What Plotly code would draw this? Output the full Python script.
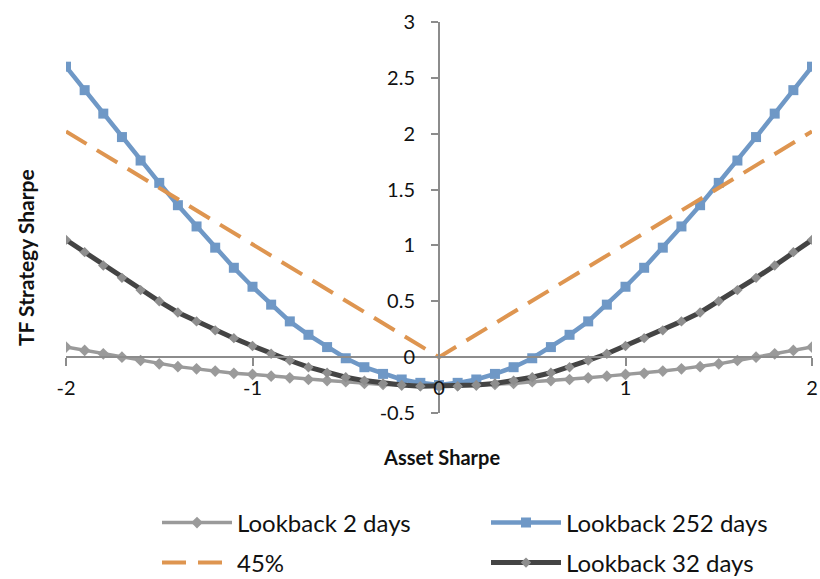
import plotly.graph_objects as go

# asset sharpe grid
asset_sharpe = [-2.0, -1.9, -1.8, -1.7, -1.6, -1.5, -1.4, -1.3, -1.2, -1.1, -1.0,
                -0.9, -0.8, -0.7, -0.6, -0.5, -0.4, -0.3, -0.2, -0.1, 0.0,
                0.1, 0.2, 0.3, 0.4, 0.5, 0.6, 0.7, 0.8, 0.9, 1.0,
                1.1, 1.2, 1.3, 1.4, 1.5, 1.6, 1.7, 1.8, 1.9, 2.0]

lookback_2 = [0.09, 0.06, 0.03, 0.00, -0.03, -0.06, -0.085, -0.105, -0.125, -0.145, -0.155,
              -0.17, -0.185, -0.20, -0.21, -0.22, -0.235, -0.245, -0.25, -0.255, -0.26,
              -0.255, -0.25, -0.245, -0.235, -0.22, -0.21, -0.20, -0.185, -0.17, -0.155,
              -0.145, -0.125, -0.105, -0.085, -0.06, -0.03, 0.00, 0.03, 0.06, 0.09]

lookback_252 = [2.60, 2.39, 2.18, 1.97, 1.76, 1.56, 1.36, 1.17, 0.98, 0.80, 0.63,
                0.47, 0.32, 0.20, 0.09, -0.01, -0.09, -0.15, -0.20, -0.23, -0.25,
                -0.23, -0.20, -0.15, -0.09, -0.01, 0.09, 0.20, 0.32, 0.47, 0.63,
                0.80, 0.98, 1.17, 1.36, 1.56, 1.76, 1.97, 2.18, 2.39, 2.60]

lookback_32 = [1.05, 0.94, 0.82, 0.71, 0.60, 0.50, 0.40, 0.32, 0.24, 0.17, 0.10,
               0.03, -0.03, -0.09, -0.14, -0.18, -0.21, -0.235, -0.25, -0.26, -0.26,
               -0.26, -0.25, -0.235, -0.21, -0.18, -0.14, -0.09, -0.03, 0.03, 0.10,
               0.17, 0.24, 0.32, 0.40, 0.50, 0.60, 0.71, 0.82, 0.94, 1.05]

line45_x = [-2.0, 0.0, 2.0]
line45_y = [2.02, 0.0, 2.02]

x_tickvals = [-2, -1, 0, 1, 2]
x_ticktext = ['-2', '-1', '0', '1', '2']
y_tickvals = [-0.5, 0, 0.5, 1, 1.5, 2, 2.5, 3]
y_ticktext = ['-0.5', '0', '0.5', '1', '1.5', '2', '2.5', '3']

FONT = 'Lato'
AXIS_GREY = '#8c8c8c'

# plot area in pixels
L, R, T, B = 66, 812, 22, 413
W, H = R - L, B - T

def px_x(p):
    return (p - L) / W

def px_y(p):
    return (B - p) / H

plots = [
    go.Scatter(x=asset_sharpe, y=lookback_2, name='Lookback 2 days', mode='lines+markers',
               line={'color': '#9a9a9a', 'width': 3.5},
               marker={'symbol': 'diamond', 'size': 9, 'color': '#9a9a9a'},
               legend='legend'),
    go.Scatter(x=asset_sharpe, y=lookback_252, name='Lookback 252 days', mode='lines+markers',
               line={'color': '#6f98c6', 'width': 4.5},
               marker={'symbol': 'square', 'size': 10, 'color': '#6f98c6'},
               legend='legend2'),
    go.Scatter(x=line45_x, y=line45_y, name='45%', mode='lines',
               line={'color': '#de9550', 'width': 4, 'dash': '24px,12px'},
               legend='legend3'),
    go.Scatter(x=asset_sharpe, y=lookback_32, name='Lookback 32 days', mode='lines+markers',
               line={'color': '#444444', 'width': 5},
               marker={'symbol': 'diamond', 'size': 8, 'color': '#8e8e8e'},
               legend='legend4'),
]

legend_common = dict(orientation='h', xanchor='left', yanchor='middle',
                     font={'size': 24, 'color': '#111111', 'family': FONT},
                     itemwidth=70, bgcolor='rgba(0,0,0,0)', itemclick=False)

plot_layout = go.Layout(
    width=820, height=579,
    plot_bgcolor='white', paper_bgcolor='white',
    font={'family': FONT, 'color': '#111111'},
    margin=dict(l=L, r=820 - R, t=T, b=579 - B, autoexpand=False),
    showlegend=True,
    xaxis={'range': [-2, 2], 'anchor': 'free', 'position': 0.5 / 3.5,
           'showline': True, 'linecolor': AXIS_GREY, 'linewidth': 2,
           'ticks': 'outside', 'ticklen': 8, 'tickwidth': 2, 'tickcolor': AXIS_GREY,
           'tickvals': x_tickvals, 'ticktext': x_ticktext,
           'ticklabelstandoff': 5, 'automargin': False,
           'tickfont': {'size': 20}, 'showgrid': False, 'zeroline': False},
    yaxis={'range': [-0.5, 3], 'anchor': 'free', 'position': 0.5,
           'showline': True, 'linecolor': AXIS_GREY, 'linewidth': 2,
           'ticks': 'outside', 'ticklen': 7, 'tickwidth': 2, 'tickcolor': AXIS_GREY,
           'tickvals': y_tickvals, 'ticktext': y_ticktext,
           'ticklabelstandoff': 12, 'automargin': False,
           'tickfont': {'size': 20}, 'showgrid': False, 'zeroline': False},
    legend=dict(legend_common, x=px_x(157), y=px_y(523)),
    legend2=dict(legend_common, x=px_x(486), y=px_y(523)),
    legend3=dict(legend_common, x=px_x(157), y=px_y(563)),
    legend4=dict(legend_common, x=px_x(486), y=px_y(563)),
    annotations=[
        dict(text='<b>Asset Sharpe</b>', xref='paper', yref='paper',
             x=px_x(441), y=px_y(457), xanchor='center', yanchor='middle',
             showarrow=False, font={'size': 20, 'family': FONT}),
        dict(text='<b>TF Strategy Sharpe</b>', xref='paper', yref='paper',
             x=px_x(25), y=px_y(258), xanchor='center', yanchor='middle',
             showarrow=False, textangle=-90, font={'size': 21, 'family': FONT}),
    ],
)

fig = go.Figure(data=plots, layout=plot_layout)
fig.write_html('out.html', config={'displayModeBar': False},
               post_script="document.body.style.margin='0';")
